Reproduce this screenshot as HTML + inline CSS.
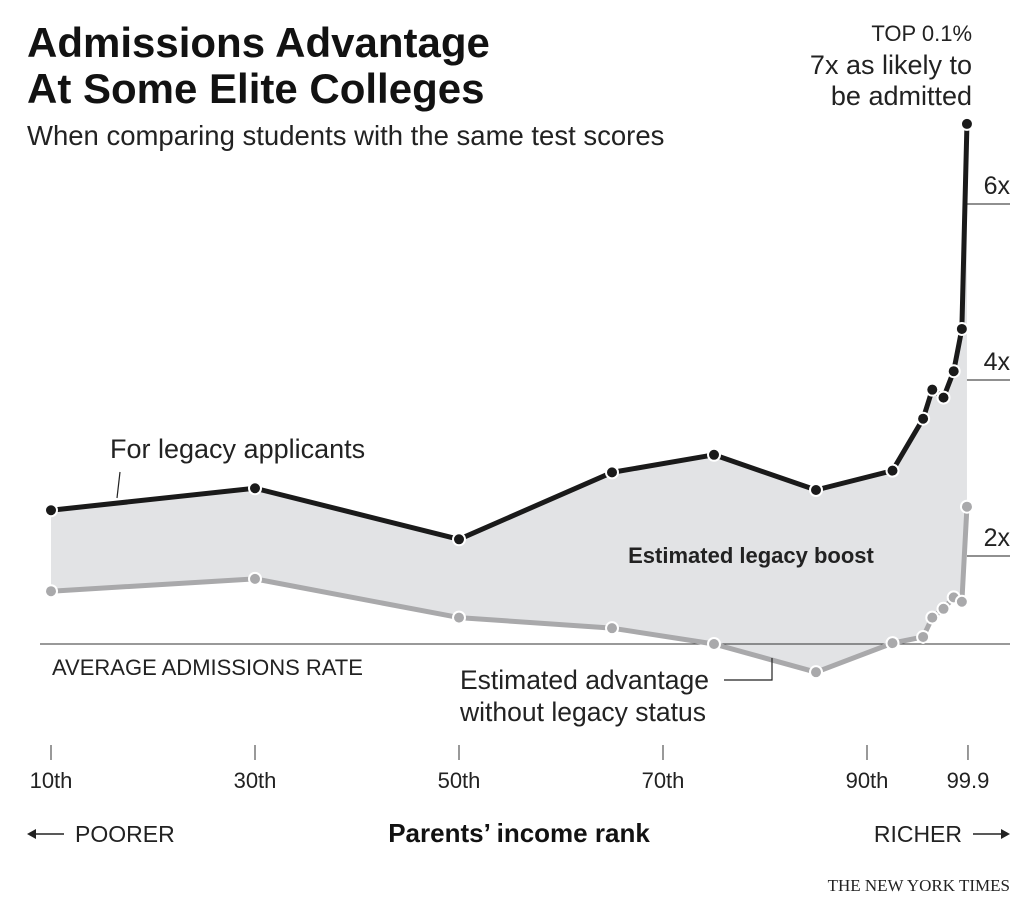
<!DOCTYPE html>
<html><head><meta charset="utf-8"><style>
body{margin:0;background:#fff;}
svg{display:block;font-family:"Liberation Sans",sans-serif;}
</style></head><body>
<svg width="1034" height="903" viewBox="0 0 1034 903">
<text x="27" y="57" font-size="42" font-weight="bold" fill="#121212">Admissions Advantage</text>
<text x="27" y="103" font-size="42" font-weight="bold" fill="#121212">At Some Elite Colleges</text>
<text x="27" y="145" font-size="27.5" fill="#222">When comparing students with the same test scores</text>
<g id="chart"></g>
<text x="972" y="41" font-size="22" text-anchor="end" fill="#222">TOP 0.1%</text>
<text x="972" y="74" font-size="27" text-anchor="end" fill="#222">7x as likely to</text>
<text x="972" y="105" font-size="27" text-anchor="end" fill="#222">be admitted</text>
<text x="110" y="458" font-size="27" fill="#222">For legacy applicants</text>
<line x1="120" y1="472" x2="117" y2="498" stroke="#222" stroke-width="1.2"/>
<text x="460" y="689" font-size="26.5" fill="#222">Estimated advantage</text>
<text x="460" y="721" font-size="26.5" fill="#222">without legacy status</text>
<polyline points="724,680 772,680 772,658" fill="none" stroke="#222" stroke-width="1.2"/>
<text x="751" y="563" font-size="22" font-weight="bold" text-anchor="middle" fill="#222">Estimated legacy boost</text>
<text x="52" y="675" font-size="22" fill="#222">AVERAGE ADMISSIONS RATE</text>
<g stroke="#222" stroke-width="1.5" fill="#222">
<line x1="30" y1="834" x2="64" y2="834"/><polygon points="27,834 36,829 36,839" stroke="none"/>
</g>
<text x="75" y="842" font-size="23" fill="#222">POORER</text>
<text x="519" y="842" font-size="26" font-weight="bold" text-anchor="middle" fill="#121212">Parents’ income rank</text>
<text x="962" y="842" font-size="23" text-anchor="end" fill="#222">RICHER</text>
<g stroke="#222" stroke-width="1.5" fill="#222">
<line x1="973" y1="834" x2="1007" y2="834"/><polygon points="1010,834 1001,829 1001,839" stroke="none"/>
</g>
<text x="1010" y="891" font-size="17" text-anchor="end" fill="#222" font-family="Liberation Serif, serif">THE NEW YORK TIMES</text>
</svg>
<script>
const pct = [10, 30, 50, 65, 75, 85, 92.5, 95.5, 96.4, 97.5, 98.5, 99.3, 99.8];
const legacy = [2.52, 2.77, 2.19, 2.95, 3.15, 2.75, 2.97, 3.56, 3.89, 3.80, 4.10, 4.58, 6.91];
const nonLegacy = [1.60, 1.74, 1.30, 1.18, 1.0, 0.68, 1.01, 1.08, 1.30, 1.40, 1.53, 1.48, 2.56];
const xTickVals = [10, 30, 50, 70, 90, 99.9];
const xTickLabels = ["10th", "30th", "50th", "70th", "90th", "99.9"];
const yTickVals = [2, 4, 6];
const yTickLabels = ["2x", "4x", "6x"];

const NS = "http://www.w3.org/2000/svg";
const g = document.getElementById("chart");
function xs(p){ return 51 + (p - 10) * 10.2; }
function ys(v){ return 644 - (v - 1) * 88; }
function mk(tag, attrs){ const e = document.createElementNS(NS, tag); for (const k in attrs) e.setAttribute(k, attrs[k]); g.appendChild(e); return e; }

let d = pct.map((p,i)=>(i?"L":"M")+xs(p)+","+ys(legacy[i])).join("");
for (let i = pct.length-1; i >= 0; i--) d += "L"+xs(pct[i])+","+ys(nonLegacy[i]);
const area = mk("path", {d: d+"Z", fill: "#e2e3e5"});



const base = mk("line", {x1: 40, x2: 1010, y1: ys(1), y2: ys(1), stroke: "#333", "stroke-width": 1});



yTickVals.forEach((v,i)=>{
  const l = mk("line", {x1: xs(99.8), x2: 1010, y1: ys(v), y2: ys(v), stroke: "#222", "stroke-width": 1});
  
  
  const t = mk("text", {x: 1010, y: ys(v)-10, "font-size": 25, "text-anchor": "end", fill: "#222"});
  t.textContent = yTickLabels[i];
  
  
});

xTickVals.forEach((v,i)=>{
  const l = mk("line", {x1: xs(v), x2: xs(v), y1: 745, y2: 760, stroke: "#333", "stroke-width": 1});
  
  
  const t = mk("text", {x: xs(v), y: 788, "font-size": 22, "text-anchor": "middle", fill: "#222"});
  t.textContent = xTickLabels[i];
  
  
});

function series(vals, color, name){
  const pl = mk("polyline", {points: pct.map((p,i)=>xs(p)+","+ys(vals[i])).join(" "), fill: "none", stroke: color, "stroke-width": 5, "stroke-linejoin": "round"});
  
  
  pct.forEach((p,i)=>{
    const c = mk("circle", {cx: xs(p), cy: ys(vals[i]), r: 6, fill: color, stroke: "#fff", "stroke-width": 2});
    
    
  });
}
series(nonLegacy, "#a9a9ab", "nonlegacy");
series(legacy, "#1a1a1a", "legacy");
</script>
</body></html>
